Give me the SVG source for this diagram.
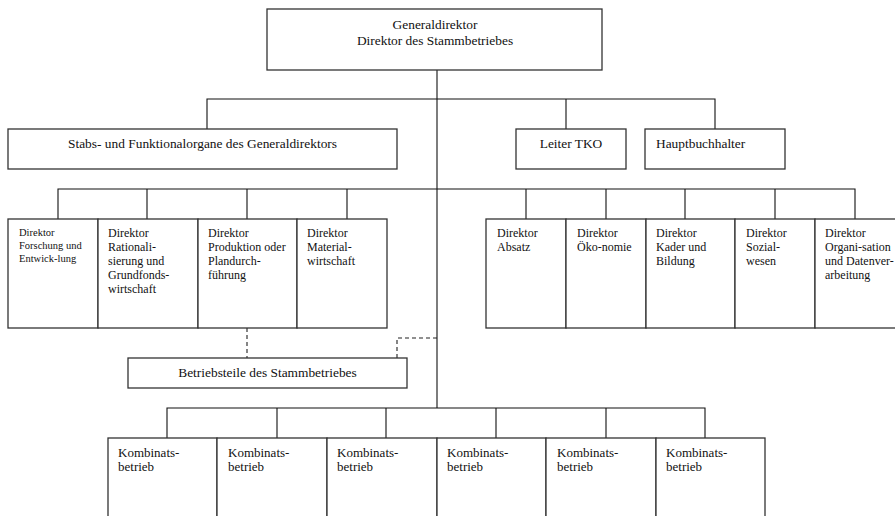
<svg xmlns="http://www.w3.org/2000/svg" width="895" height="516" viewBox="0 0 895 516">
<style>
.box{fill:#fff;stroke:#333;stroke-width:1.3}
.ln{fill:none;stroke:#111;stroke-width:1.1}
.dash{fill:none;stroke:#222;stroke-width:1.1;stroke-dasharray:4,3}
text{font-family:"Liberation Serif","Times New Roman",serif;font-size:13.4px;fill:#111}
.sm{font-size:10.5px}
.md{font-size:12px}
.kb{font-size:13px}
.c{text-anchor:middle}
</style>
<rect width="895" height="516" fill="#fff"/>
<g id="connectors">
<path class="ln" d="M437,70 V408"/>
<path class="ln" d="M207,129 V99 H715 V129 M566,99 V129"/>
<path class="ln" d="M58,219 V189 H855 V219 M147,189 V219 M247,189 V219 M347,189 V219 M526,189 V219 M606,189 V219 M685,189 V219 M775,189 V219"/>
<path class="ln" d="M167,438 V408 H705 V438 M277,408 V438 M386,408 V438 M496,408 V438 M606,408 V438"/>
<path class="dash" d="M247,328 V358"/>
<path class="dash" d="M437,338 H397 V358"/>
</g>
<g id="generaldirektor">
<rect class="box" x="267" y="9" width="335" height="61"/>
<text class="c" x="435" y="29">Generaldirektor</text>
<text class="c" x="435" y="45">Direktor des Stammbetriebes</text>
</g>
<g id="stabs">
<rect class="box" x="8" y="129" width="389" height="40"/>
<text class="c" x="202.5" y="148">Stabs- und Funktionalorgane des Generaldirektors</text>
</g>
<g id="leiter-tko">
<rect class="box" x="516" y="129" width="110" height="40"/>
<text class="c" x="571" y="148">Leiter TKO</text>
</g>
<g id="hauptbuchhalter">
<rect class="box" x="645" y="129" width="140" height="40"/>
<text x="656" y="148">Hauptbuchhalter</text>
</g>
<g id="dir-forschung">
<rect class="box" x="8" y="219" width="90" height="109"/>
<text class="sm" x="19" y="236">Direktor</text>
<text class="sm" x="19" y="249">Forschung und</text>
<text class="sm" x="19" y="262">Entwick-lung</text>
</g>
<g id="dir-rationalisierung">
<rect class="box" x="98" y="219" width="100" height="109"/>
<text class="md" x="108" y="237">Direktor</text>
<text class="md" x="108" y="251">Rationali-</text>
<text class="md" x="108" y="265">sierung und</text>
<text class="md" x="108" y="279">Grundfonds-</text>
<text class="md" x="108" y="293">wirtschaft</text>
</g>
<g id="dir-produktion">
<rect class="box" x="198" y="219" width="99" height="109"/>
<text class="md" x="208" y="237">Direktor</text>
<text class="md" x="208" y="251">Produktion oder</text>
<text class="md" x="208" y="265">Plandurch-</text>
<text class="md" x="208" y="279">führung</text>
</g>
<g id="dir-material">
<rect class="box" x="297" y="219" width="90" height="109"/>
<text class="md" x="307" y="237">Direktor</text>
<text class="md" x="307" y="251">Material-</text>
<text class="md" x="307" y="265">wirtschaft</text>
</g>
<g id="dir-absatz">
<rect class="box" x="486" y="219" width="80" height="109"/>
<text class="md" x="497" y="237">Direktor</text>
<text class="md" x="497" y="251">Absatz</text>
</g>
<g id="dir-oekonomie">
<rect class="box" x="566" y="219" width="80" height="109"/>
<text class="md" x="577" y="237">Direktor</text>
<text class="md" x="577" y="251">Öko-nomie</text>
</g>
<g id="dir-kader">
<rect class="box" x="646" y="219" width="89" height="109"/>
<text class="md" x="656" y="237">Direktor</text>
<text class="md" x="656" y="251">Kader und</text>
<text class="md" x="656" y="265">Bildung</text>
</g>
<g id="dir-sozial">
<rect class="box" x="735" y="219" width="80" height="109"/>
<text class="md" x="746" y="237">Direktor</text>
<text class="md" x="746" y="251">Sozial-</text>
<text class="md" x="746" y="265">wesen</text>
</g>
<g id="dir-organisation">
<rect class="box" x="815" y="219" width="90" height="109"/>
<text class="md" x="825" y="237">Direktor</text>
<text class="md" x="825" y="251">Organi-sation</text>
<text class="md" x="825" y="265">und Datenver-</text>
<text class="md" x="825" y="279">arbeitung</text>
</g>
<g id="betriebsteile">
<rect class="box" x="128" y="358" width="279" height="30"/>
<text class="c" x="267.5" y="377">Betriebsteile des Stammbetriebes</text>
</g>
<g id="kombinat-1">
<rect class="box" x="108" y="438" width="109" height="90"/>
<text class="kb" x="118" y="457">Kombinats-</text>
<text class="kb" x="118" y="471">betrieb</text>
</g>
<g id="kombinat-2">
<rect class="box" x="217" y="438" width="110" height="90"/>
<text class="kb" x="228" y="457">Kombinats-</text>
<text class="kb" x="228" y="471">betrieb</text>
</g>
<g id="kombinat-3">
<rect class="box" x="327" y="438" width="110" height="90"/>
<text class="kb" x="337" y="457">Kombinats-</text>
<text class="kb" x="337" y="471">betrieb</text>
</g>
<g id="kombinat-4">
<rect class="box" x="437" y="438" width="109" height="90"/>
<text class="kb" x="447" y="457">Kombinats-</text>
<text class="kb" x="447" y="471">betrieb</text>
</g>
<g id="kombinat-5">
<rect class="box" x="546" y="438" width="110" height="90"/>
<text class="kb" x="557" y="457">Kombinats-</text>
<text class="kb" x="557" y="471">betrieb</text>
</g>
<g id="kombinat-6">
<rect class="box" x="656" y="438" width="109" height="90"/>
<text class="kb" x="666" y="457">Kombinats-</text>
<text class="kb" x="666" y="471">betrieb</text>
</g>
</svg>
